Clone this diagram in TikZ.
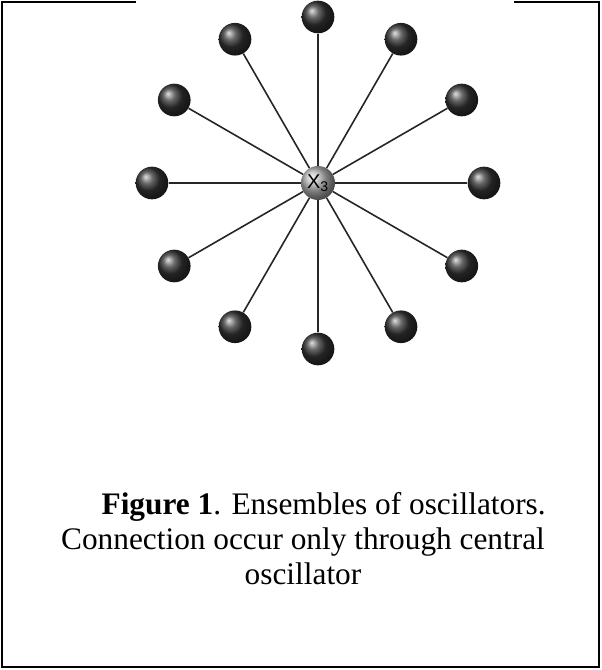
\documentclass[tikz,border=0pt]{standalone}
\usepackage{fontspec}
\setmainfont{Liberation Serif}
\setsansfont{Liberation Sans}
\usetikzlibrary{calc}

\begin{document}
\begin{tikzpicture}[x=0.75pt,y=-0.75pt,
		osc/.style={circle,inner sep=0pt,minimum size=24.5pt,ball color=black!80},
		central/.style={circle,inner sep=0pt,minimum size=25.5pt,ball color=gray!60,
			font=\sffamily\fontsize{15}{15}\selectfont},
		spoke/.style={line width=1.2pt,black!85},
		frame/.style={line width=1.5pt},
		caption/.style={align=center,font=\fontsize{23.5}{26.25}\selectfont}]
		\useasboundingbox (0,0) rectangle (601,670);
		
		% frame around the figure
		\draw[frame] (514,2) -- (599,2) -- (599,667) -- (2,667) -- (2,2) -- (136,2);
		
		\node[central] (X3) at (318,183) {X\textsubscript{3}};
		\foreach \i in {0,...,11}
			\node[osc] (osc_\i) at ($(X3.center)+(\i*30:166)$) {};
		\foreach \i in {0,...,11}
			\draw[spoke] (X3) -- (osc_\i);
		
		\node[caption,anchor=base] (cap) at (303,584)
			{\hspace*{31pt}\textbf{Figure 1}. Ensembles of oscillators.\\
			Connection occur only through central\\
			oscillator};
	\end{tikzpicture}
\end{document}
